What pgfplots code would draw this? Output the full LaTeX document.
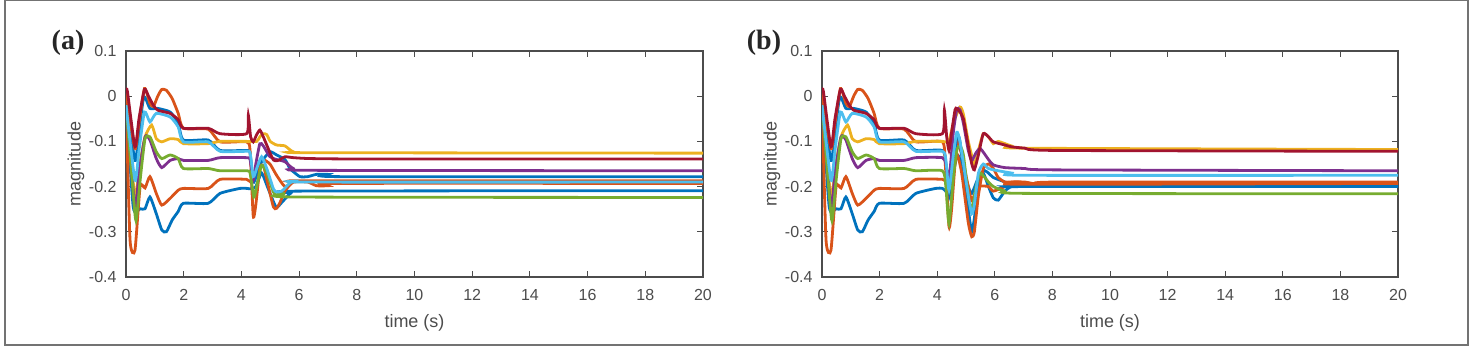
\documentclass[border=0pt]{standalone}
\usepackage{pgfplots}
\pgfplotsset{compat=1.18}
\usepackage{fontspec}
\setmainfont{Liberation Sans}
\newfontfamily\serifb{Liberation Serif}
\definecolor{mb}{RGB}{0,114,189}
\definecolor{mo}{RGB}{217,83,25}
\definecolor{my}{RGB}{237,177,32}
\definecolor{mp}{RGB}{126,47,142}
\definecolor{mg}{RGB}{119,172,48}
\definecolor{mc}{RGB}{77,190,238}
\definecolor{mr}{RGB}{162,20,47}
\begin{document}
\begin{tikzpicture}
\useasboundingbox (0pt,0pt) rectangle (737pt,173.5pt);
\draw[black!55, line width=0.8pt] (2.5pt,173.2pt) -- (2.5pt,1pt) -- (734pt,1pt) -- (734pt,173.2pt) -- cycle;
\pgfplotsset{
  myax/.style={
    scale only axis, height=113pt,
    xmin=0, xmax=20, ymin=-0.4, ymax=0.1,
    xtick={0,2,4,6,8,10,12,14,16,18,20},
    ytick={-0.4,-0.3,-0.2,-0.1,0,0.1},
    yticklabels={-0.4,-0.3,-0.2,-0.1,0,0.1},
    /pgf/number format/assume math mode=true,
    tick align=inside, major tick length=2.8pt,
    axis line style={black!70, line width=0.6pt},
    every tick/.style={black!70, line width=0.5pt},
    tick label style={font=\fontsize{8}{9}\selectfont, text=black!70},
    yticklabel style={xshift=-1.2pt},
    xticklabel style={yshift=-2.5pt},
    xlabel={time (s)}, ylabel={magnitude},
    label style={font=\fontsize{9}{10}\selectfont, text=black!70},
    xlabel style={at={(axis description cs:0.5,0)}, anchor=north, yshift=-15pt},
    ylabel style={at={([xshift=-25pt]axis description cs:0,0.5)}, anchor=center},
    clip=true,
    every axis plot/.append style={line width=1.4pt, smooth, tension=0.35},
  }
}
% ---------------- panel (a) ----------------
\begin{axis}[myax, at={(63pt,35pt)}, anchor=south west, width=288.5pt]
% blue B
\addplot[mb] coordinates {(0,-0.01) (0.25,-0.245) (0.49,-0.249) (0.66,-0.249) (0.83,-0.223) (1.05,-0.26) (1.24,-0.296) (1.4,-0.3) (1.6,-0.274) (1.81,-0.255) (1.99,-0.237) (2.85,-0.237) (3.26,-0.215) (3.95,-0.204) (4.18,-0.204)
 (4.35,-0.205) (4.5,-0.2) (4.7,-0.17) (4.9,-0.2) (5.2,-0.245) (5.4,-0.235) (5.7,-0.215) (6.0,-0.21) (20,-0.209)};
% orange B
\addplot[mo] coordinates {(0,-0.01) (0.14,-0.318) (0.31,-0.341) (0.49,-0.2) (0.66,-0.203) (0.83,-0.178) (1.05,-0.215) (1.24,-0.241) (1.53,-0.226) (1.81,-0.208) (1.99,-0.204) (2.85,-0.204) (3.26,-0.184) (4.18,-0.184)
 (4.32,-0.19) (4.45,-0.17) (4.64,-0.145) (4.76,-0.14) (4.99,-0.15) (5.22,-0.175) (5.51,-0.2) (5.8,-0.19) (6.3,-0.19) (6.6,-0.198) (7.0,-0.198) (7.4,-0.193) (20,-0.193)};
% blue A
\addplot[mb] coordinates {(0,-0.005) (0.31,-0.142) (0.45,-0.08) (0.62,-0.001) (0.83,-0.027) (1.1,-0.027) (1.53,-0.035) (1.81,-0.06) (1.99,-0.097) (2.85,-0.097) (3.26,-0.12) (4.18,-0.12)
 (4.3,-0.125) (4.41,-0.19) (4.53,-0.175) (4.7,-0.145) (4.99,-0.123) (5.22,-0.13) (5.51,-0.14) (5.68,-0.16) (5.8,-0.167) (6.03,-0.178) (6.3,-0.178) (6.6,-0.173) (7.0,-0.173) (7.4,-0.178) (20,-0.178)};
% orange A
\addplot[mo] coordinates {(0,0.006) (0.31,-0.116) (0.45,-0.06) (0.64,0.017) (0.83,-0.016) (0.95,-0.023) (1.1,0.0) (1.24,0.015) (1.4,0.013) (1.6,-0.005) (1.81,-0.038) (1.99,-0.071) (2.85,-0.073) (3.26,-0.101) (4.18,-0.101)
 (4.3,-0.12) (4.41,-0.265) (4.5,-0.24) (4.64,-0.16) (4.76,-0.153) (4.9,-0.19) (5.11,-0.245) (5.22,-0.248) (5.34,-0.235) (5.51,-0.21) (5.8,-0.19) (6.4,-0.187) (20,-0.187)};
% yellow
\addplot[my] coordinates {(0,-0.02) (0.31,-0.223) (0.45,-0.16) (0.66,-0.09) (0.89,-0.064) (1.05,-0.094) (1.24,-0.101) (1.53,-0.094) (1.81,-0.096) (1.99,-0.105) (2.85,-0.105) (3.26,-0.1) (4.18,-0.1)
 (4.53,-0.1) (4.64,-0.09) (4.76,-0.083) (4.88,-0.085) (5.0,-0.1) (5.22,-0.108) (5.51,-0.11) (5.8,-0.123) (6.4,-0.125) (20,-0.126)};
% purple
\addplot[mp] coordinates {(0,-0.02) (0.31,-0.245) (0.45,-0.17) (0.66,-0.09) (0.83,-0.097) (1.05,-0.138) (1.24,-0.158) (1.53,-0.142) (1.81,-0.138) (1.99,-0.142) (2.85,-0.142) (3.26,-0.136) (4.18,-0.136)
 (4.3,-0.14) (4.41,-0.186) (4.5,-0.15) (4.64,-0.105) (4.76,-0.11) (4.99,-0.134) (5.22,-0.14) (5.51,-0.145) (5.8,-0.16) (6.4,-0.164) (20,-0.165)};
% green
\addplot[mg] coordinates {(0,-0.02) (0.31,-0.26) (0.37,-0.267) (0.5,-0.18) (0.66,-0.094) (0.83,-0.09) (1.05,-0.123) (1.24,-0.138) (1.53,-0.13) (1.81,-0.138) (1.99,-0.16) (2.85,-0.16) (3.26,-0.165) (4.18,-0.165)
 (4.3,-0.17) (4.43,-0.223) (4.53,-0.2) (4.7,-0.153) (4.88,-0.17) (5.11,-0.212) (5.22,-0.219) (5.51,-0.215) (5.8,-0.223) (20,-0.224)};
% light blue
\addplot[mc] coordinates {(0,-0.02) (0.31,-0.186) (0.45,-0.12) (0.64,-0.035) (0.83,-0.057) (1.05,-0.038) (1.53,-0.046) (1.81,-0.068) (1.99,-0.101) (2.85,-0.101) (3.26,-0.122) (4.18,-0.122)
 (4.3,-0.125) (4.41,-0.178) (4.53,-0.16) (4.7,-0.134) (4.88,-0.16) (5.11,-0.205) (5.22,-0.212) (5.4,-0.21) (5.68,-0.192) (5.8,-0.188) (6.4,-0.19) (20,-0.19)};
% dark red
\addplot[mr] coordinates {(0,0.013) (0.05,0.01) (0.31,-0.112) (0.45,-0.05) (0.64,0.015) (0.78,0.0) (0.95,-0.02) (1.1,-0.031) (1.53,-0.038) (1.81,-0.052) (1.99,-0.071) (2.85,-0.071) (3.26,-0.083) (4.18,-0.083)
 (4.24,-0.042) (4.32,-0.09) (4.41,-0.101) (4.53,-0.085) (4.64,-0.075) (4.76,-0.09) (4.99,-0.125) (5.11,-0.141) (5.22,-0.143) (5.34,-0.14) (5.51,-0.134) (5.8,-0.136) (6.4,-0.138) (8.5,-0.139) (20,-0.139)};
\end{axis}
% ---------------- panel (b) ----------------
\begin{axis}[myax, at={(411pt,35pt)}, anchor=south west, width=288pt]
% blue B
\addplot[mb] coordinates {(0,-0.01) (0.25,-0.245) (0.49,-0.249) (0.66,-0.249) (0.83,-0.223) (1.05,-0.26) (1.24,-0.296) (1.4,-0.3) (1.6,-0.274) (1.81,-0.255) (1.99,-0.237) (2.85,-0.237) (3.26,-0.215) (3.95,-0.204) (4.18,-0.204)
 (4.3,-0.21) (4.41,-0.22) (4.56,-0.17) (4.7,-0.13) (4.85,-0.15) (5.08,-0.2) (5.2,-0.215) (5.43,-0.18) (5.6,-0.17) (5.78,-0.2) (5.95,-0.225) (6.12,-0.23) (6.35,-0.21) (6.58,-0.2) (7.05,-0.2) (20,-0.2)};
% orange B
\addplot[mo] coordinates {(0,-0.01) (0.14,-0.318) (0.31,-0.341) (0.49,-0.2) (0.66,-0.203) (0.83,-0.178) (1.05,-0.215) (1.24,-0.241) (1.53,-0.226) (1.81,-0.208) (1.99,-0.204) (2.85,-0.204) (3.26,-0.184) (4.18,-0.184)
 (4.3,-0.19) (4.41,-0.2) (4.56,-0.14) (4.7,-0.1) (4.85,-0.13) (5.08,-0.2) (5.2,-0.23) (5.43,-0.2) (5.78,-0.2) (5.95,-0.21) (6.35,-0.2) (6.58,-0.19) (7.05,-0.19) (7.51,-0.195) (8.09,-0.19) (20,-0.19)};
% blue A
\addplot[mb] coordinates {(0,-0.005) (0.31,-0.142) (0.45,-0.08) (0.62,-0.001) (0.83,-0.027) (1.1,-0.027) (1.53,-0.035) (1.81,-0.06) (1.99,-0.097) (2.85,-0.097) (3.26,-0.12) (4.18,-0.12)
 (4.3,-0.15) (4.41,-0.223) (4.56,-0.15) (4.68,-0.09) (4.79,-0.1) (5.08,-0.25) (5.2,-0.3) (5.29,-0.27) (5.43,-0.2) (5.6,-0.165) (5.78,-0.17) (5.95,-0.18) (6.35,-0.19) (6.58,-0.2) (7.05,-0.2) (20,-0.2)};
% orange A
\addplot[mo] coordinates {(0,0.006) (0.31,-0.116) (0.45,-0.06) (0.64,0.017) (0.83,-0.016) (0.95,-0.023) (1.1,0.0) (1.24,0.015) (1.4,0.013) (1.6,-0.005) (1.81,-0.038) (1.99,-0.071) (2.85,-0.073) (3.26,-0.101) (4.18,-0.101)
 (4.28,-0.15) (4.41,-0.289) (4.5,-0.25) (4.62,-0.15) (4.7,-0.13) (4.85,-0.17) (5.08,-0.28) (5.2,-0.311) (5.29,-0.3) (5.43,-0.22) (5.6,-0.16) (5.78,-0.15) (5.95,-0.16) (6.12,-0.18) (6.35,-0.19) (6.58,-0.19) (7.05,-0.195) (20,-0.193)};
% yellow
\addplot[my] coordinates {(0,-0.02) (0.31,-0.223) (0.45,-0.16) (0.66,-0.09) (0.89,-0.064) (1.05,-0.094) (1.24,-0.101) (1.53,-0.094) (1.81,-0.096) (1.99,-0.105) (2.85,-0.105) (3.26,-0.1) (4.18,-0.1)
 (4.4,-0.1) (4.56,-0.06) (4.79,-0.024) (4.91,-0.04) (5.08,-0.1) (5.29,-0.15) (5.43,-0.12) (5.6,-0.083) (5.78,-0.09) (5.95,-0.105) (6.12,-0.1) (6.58,-0.11) (7.05,-0.115) (20,-0.118)};
% purple
\addplot[mp] coordinates {(0,-0.02) (0.31,-0.245) (0.45,-0.17) (0.66,-0.09) (0.83,-0.097) (1.05,-0.138) (1.24,-0.158) (1.53,-0.142) (1.81,-0.138) (1.99,-0.142) (2.85,-0.142) (3.26,-0.136) (4.18,-0.136)
 (4.3,-0.15) (4.41,-0.186) (4.56,-0.08) (4.68,-0.03) (4.79,-0.03) (4.91,-0.06) (5.08,-0.12) (5.2,-0.142) (5.35,-0.125) (5.5,-0.116) (5.78,-0.14) (5.95,-0.152) (6.35,-0.158) (7.05,-0.16) (8.09,-0.163) (20,-0.165)};
% green
\addplot[mg] coordinates {(0,-0.02) (0.31,-0.26) (0.37,-0.267) (0.5,-0.18) (0.66,-0.094) (0.83,-0.09) (1.05,-0.123) (1.24,-0.138) (1.53,-0.13) (1.81,-0.138) (1.99,-0.16) (2.85,-0.16) (3.26,-0.165) (4.18,-0.165)
 (4.3,-0.2) (4.41,-0.282) (4.56,-0.18) (4.68,-0.12) (4.79,-0.11) (4.91,-0.13) (5.08,-0.22) (5.2,-0.252) (5.35,-0.2) (5.5,-0.17) (5.78,-0.19) (5.95,-0.2) (6.35,-0.21) (7.05,-0.215) (20,-0.216)};
% light blue
\addplot[mc] coordinates {(0,-0.02) (0.31,-0.186) (0.45,-0.12) (0.64,-0.035) (0.83,-0.057) (1.05,-0.038) (1.53,-0.046) (1.81,-0.068) (1.99,-0.101) (2.85,-0.101) (3.26,-0.122) (4.18,-0.122)
 (4.3,-0.14) (4.41,-0.208) (4.56,-0.13) (4.68,-0.08) (4.79,-0.1) (5.08,-0.22) (5.2,-0.26) (5.29,-0.24) (5.43,-0.17) (5.6,-0.15) (5.78,-0.16) (6.12,-0.165) (6.58,-0.17) (7.05,-0.175) (20,-0.175)};
% dark red
\addplot[mr] coordinates {(0,0.013) (0.05,0.01) (0.31,-0.112) (0.45,-0.05) (0.64,0.015) (0.78,0.0) (0.95,-0.02) (1.1,-0.031) (1.53,-0.038) (1.81,-0.052) (1.99,-0.071) (2.85,-0.071) (3.26,-0.083) (4.18,-0.083)
 (4.25,-0.031) (4.33,-0.09) (4.41,-0.12) (4.5,-0.08) (4.62,-0.03) (4.68,-0.027) (4.79,-0.035) (4.91,-0.05) (5.08,-0.11) (5.2,-0.15) (5.29,-0.163) (5.43,-0.13) (5.6,-0.083) (5.78,-0.09) (5.95,-0.101) (6.35,-0.108) (6.58,-0.112) (7.05,-0.115) (8.09,-0.12) (20,-0.122)};
\end{axis}
\node[font=\serifb\bfseries\fontsize{14}{16}\selectfont, text=black!85] at (34pt,152pt) {(a)};
\node[font=\serifb\bfseries\fontsize{14}{16}\selectfont, text=black!85] at (382pt,152pt) {(b)};
\end{tikzpicture}
\end{document}
